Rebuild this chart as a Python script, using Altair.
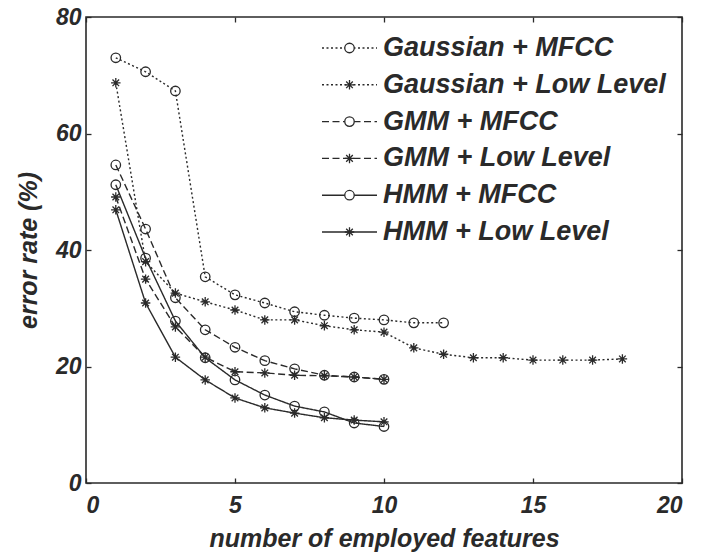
import altair as alt
import pandas as pd

# ---- data ----
series_names = ["Gaussian + MFCC", "Gaussian + Low Level", "GMM + MFCC",
                "GMM + Low Level", "HMM + MFCC", "HMM + Low Level"]
feature_types = ["MFCC", "Low Level", "MFCC", "Low Level", "MFCC", "Low Level"]

x_gauss_mfcc = [1, 2, 3, 4, 5, 6, 7, 8, 9, 10, 11, 12]
y_gauss_mfcc = [73.0, 70.6, 67.3, 35.4, 32.3, 30.9, 29.4, 28.8, 28.3, 28.0, 27.5, 27.5]

x_gauss_ll = [1, 2, 3, 4, 5, 6, 7, 8, 9, 10, 11, 12, 13, 14, 15, 16, 17, 18]
y_gauss_ll = [68.7, 38.0, 32.6, 31.1, 29.7, 28.0, 28.0, 27.0, 26.3, 25.9, 23.2, 22.1,
              21.5, 21.5, 21.1, 21.1, 21.1, 21.3]

x_gmm_mfcc = [1, 2, 3, 4, 5, 6, 7, 8, 9, 10]
y_gmm_mfcc = [54.6, 43.6, 31.8, 26.3, 23.3, 21.0, 19.6, 18.5, 18.2, 17.8]

x_gmm_ll = [1, 2, 3, 4, 5, 6, 7, 8, 9, 10]
y_gmm_ll = [49.1, 35.0, 26.8, 21.6, 19.1, 18.9, 18.5, 18.4, 18.2, 17.8]

x_hmm_mfcc = [1, 2, 3, 4, 5, 6, 7, 8, 9, 10]
y_hmm_mfcc = [51.2, 38.6, 27.8, 21.5, 17.7, 15.1, 13.2, 12.2, 10.3, 9.7]

x_hmm_ll = [1, 2, 3, 4, 5, 6, 7, 8, 9, 10]
y_hmm_ll = [46.9, 30.9, 21.6, 17.7, 14.6, 12.9, 12.0, 11.2, 10.8, 10.5]

x_ticks = [0, 5, 10, 15, 20]
y_ticks = [0, 20, 40, 60, 80]

all_x = [x_gauss_mfcc, x_gauss_ll, x_gmm_mfcc, x_gmm_ll, x_hmm_mfcc, x_hmm_ll]
all_y = [y_gauss_mfcc, y_gauss_ll, y_gmm_mfcc, y_gmm_ll, y_hmm_mfcc, y_hmm_ll]

rows = []
for name, ft, xs, ys in zip(series_names, feature_types, all_x, all_y):
    for xv, yv in zip(xs, ys):
        rows.append({"series": name, "feature": ft, "x": xv, "y": yv})
df = pd.DataFrame(rows)

# ---- styles ----
INK = "#2a2a2a"
FONT = "Liberation Sans"
DOT = [2, 2.5]
DASH = [7, 3.5]
SOLID = [1, 0]
dash_range = [DOT, DOT, DASH, DASH, SOLID, SOLID]
STAR = "M0,-1L0,1M-1,0L1,0M-0.7,-0.7L0.7,0.7M-0.7,0.7L0.7,-0.7"
shape_domain = ["MFCC", "Low Level"]
shape_range = ["circle", STAR]

W, H = 596, 466

xscale = alt.Scale(domain=[0, 20], nice=False, zero=False)
yscale = alt.Scale(domain=[0, 80], nice=False, zero=False)

main_x_axis = alt.Axis(orient="bottom", values=x_ticks, title="number of employed features",
                       labelFont=FONT, labelFontSize=23, labelFontStyle="italic",
                       labelFontWeight="bold", labelColor=INK, labelPadding=11,
                       tickSize=0, domain=False, grid=False,
                       titleFont=FONT, titleFontSize=25, titleFontStyle="italic",
                       titleFontWeight="bold", titleColor=INK, titlePadding=9)
main_y_axis = alt.Axis(orient="left", values=y_ticks, title="error rate (%)",
                       labelFont=FONT, labelFontSize=23, labelFontStyle="italic",
                       labelFontWeight="bold", labelColor=INK, labelPadding=5,
                       tickSize=0, domain=False, grid=False,
                       titleFont=FONT, titleFontSize=25, titleFontStyle="italic",
                       titleFontWeight="bold", titleColor=INK, titlePadding=14)

base = alt.Chart(df)

lines = base.mark_line(color=INK, strokeWidth=1.4).encode(
    x=alt.X("x:Q", scale=xscale, axis=main_x_axis),
    y=alt.Y("y:Q", scale=yscale, axis=main_y_axis),
    detail="series:N",
    strokeDash=alt.StrokeDash("series:N", scale=alt.Scale(domain=series_names, range=dash_range),
                              legend=None),
)

points = base.mark_point(color=INK, filled=False, size=90, strokeWidth=1.3, opacity=1).encode(
    x=alt.X("x:Q", scale=xscale, axis=None),
    y=alt.Y("y:Q", scale=yscale, axis=None),
    shape=alt.Shape("feature:N", scale=alt.Scale(domain=shape_domain, range=shape_range),
                    legend=None),
)


def tick_axis(orient, vals):
    return alt.Axis(orient=orient, values=vals, labels=False, domain=False, grid=False,
                    ticks=True, tickSize=5, tickColor=INK, tickWidth=1.3, offset=-5, title=None)


ticks_bl = base.mark_point(opacity=0).encode(
    x=alt.X("x:Q", scale=xscale, axis=tick_axis("bottom", x_ticks)),
    y=alt.Y("y:Q", scale=yscale, axis=tick_axis("left", y_ticks)),
)
ticks_tr = base.mark_point(opacity=0).encode(
    x=alt.X("x:Q", scale=xscale, axis=tick_axis("top", x_ticks)),
    y=alt.Y("y:Q", scale=yscale, axis=tick_axis("right", y_ticks)),
)

# ---- legend drawn inside the plot ----
legend_layers = []
LX0, LX1, LTX, LY0, LDY = 236, 291, 297, 31, 36.8
for i, (name, ft) in enumerate(zip(series_names, feature_types)):
    yy = LY0 + i * LDY
    item = alt.Chart(alt.Data(values=[{"label": name, "feature": ft}]))
    legend_layers.append(item.mark_rule(color=INK, strokeWidth=1.4,
                                        strokeDash=dash_range[i]).encode(
        x=alt.value(LX0), x2=alt.value(LX1), y=alt.value(yy)))
    legend_layers.append(item.mark_point(color=INK, filled=False, size=90, strokeWidth=1.3,
                                         opacity=1, fill="white",
                                         shape=shape_range[shape_domain.index(ft)]).encode(
        x=alt.value((LX0 + LX1) / 2), y=alt.value(yy)))
    legend_layers.append(item.mark_text(align="left", baseline="middle", font=FONT,
                                        fontSize=27, fontStyle="italic", fontWeight="bold",
                                        color=INK).encode(
        text="label:N", x=alt.value(LTX), y=alt.value(yy)))

chart = alt.layer(lines, points, ticks_bl, ticks_tr, *legend_layers).resolve_axis(
    x="independent", y="independent"
).properties(
    width=W, height=H,
    autosize=alt.AutoSizeParams(type="none"),
    padding={"left": 86, "top": 17, "right": 20, "bottom": 70},
    background="white",
).configure_view(stroke=INK, strokeWidth=1.6)

chart.save("out.html", embed_options={"renderer": "svg", "actions": False})
